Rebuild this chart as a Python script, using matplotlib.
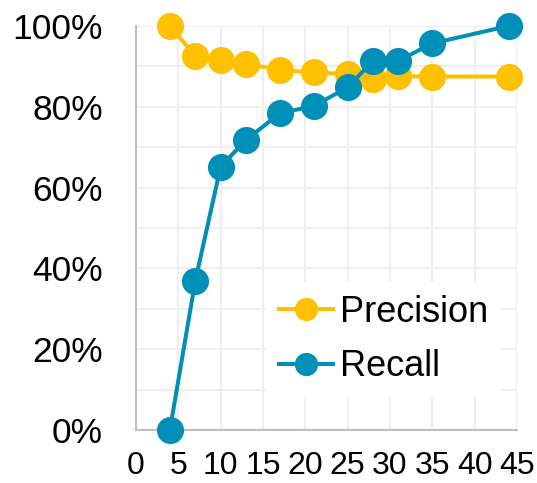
import matplotlib.pyplot as plt
from matplotlib.ticker import FuncFormatter, MultipleLocator

plt.rcParams['font.family'] = ['Liberation Sans', 'DejaVu Sans']

# Datos
k_values = [4, 7, 10, 13, 17, 21, 25, 28, 31, 35, 44]
precision = [1.00, 0.926, 0.917, 0.907, 0.891, 0.885, 0.881, 0.869, 0.876, 0.875, 0.875]
recall = [0.00, 0.369, 0.652, 0.718, 0.784, 0.802, 0.848, 0.914, 0.914, 0.957, 1.00]

yellow = '#FFC000'
blue = '#008FB7'

fig = plt.figure(figsize=(5.37, 4.83), dpi=100)
ax = fig.add_axes([136 / 537, 1 - 430 / 483, 381 / 537, 404 / 483])

ax.plot(k_values, precision, color=yellow, lw=2.9, marker='o', ms=18.5,
        label='Precision', clip_on=False, zorder=3)
ax.plot(k_values, recall, color=blue, lw=2.9, marker='o', ms=18.5,
        label='Recall', clip_on=False, zorder=4)

ax.set_xlim(0, 45)
ax.set_ylim(0, 1)
ax.xaxis.set_major_locator(MultipleLocator(5))
ax.yaxis.set_major_locator(MultipleLocator(0.2))
ax.yaxis.set_minor_locator(MultipleLocator(0.1))
ax.yaxis.set_major_formatter(FuncFormatter(lambda v, p: f'{v:.0%}'))

ax.grid(True, which='both', color='#EFEFEF', lw=1.5, zorder=0)
ax.set_axisbelow(True)
for s in ['top', 'right']:
    ax.spines[s].set_visible(False)
ax.spines['left'].set_color('#BFBFBF')
ax.spines['bottom'].set_color('#BFBFBF')
ax.spines['left'].set_linewidth(1.5)
ax.spines['bottom'].set_linewidth(1.5)

ax.tick_params(axis='y', which='both', length=0, labelsize=25.5, pad=24)
ax.tick_params(axis='x', length=0, labelsize=23, pad=15)

leg = ax.legend(loc='upper left', bbox_to_anchor=(266 / 537, 1 - 282 / 483),
                bbox_transform=fig.transFigure, borderaxespad=0,
                fontsize=26, frameon=True, facecolor='white', edgecolor='none',
                framealpha=1, fancybox=False, markerscale=0.85,
                handlelength=1.5, handletextpad=0.2, labelspacing=0.55,
                borderpad=0.35)
leg.set_zorder(5)

fig.savefig('out.png', dpi=100)
